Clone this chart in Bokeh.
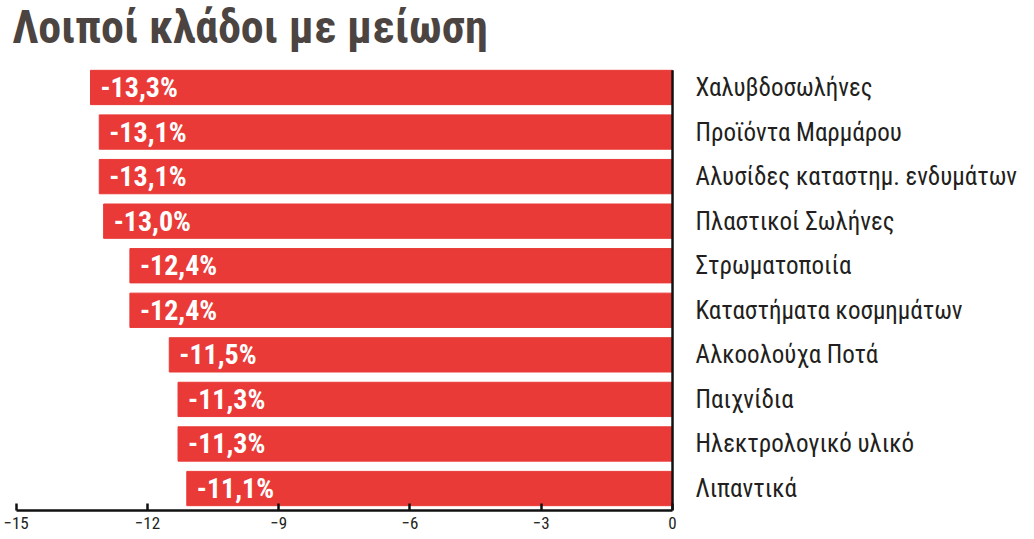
from bokeh.plotting import figure
from bokeh.models import Range1d, FixedTicker, Label, ColumnDataSource
from bokeh.embed import file_html
from bokeh.resources import INLINE
from bokeh.core.properties import value

title = "Λοιποί κλάδοι με μείωση"
categories = ["Χαλυβδοσωλήνες", "Προϊόντα Μαρμάρου", "Αλυσίδες καταστημ. ενδυμάτων",
              "Πλαστικοί Σωλήνες", "Στρωματοποιία", "Καταστήματα κοσμημάτων",
              "Αλκοολούχα Ποτά", "Παιχνίδια", "Ηλεκτρολογικό υλικό", "Λιπαντικά"]
values = [-13.3, -13.1, -13.1, -13.0, -12.4, -12.4, -11.5, -11.3, -11.3, -11.1]
value_labels = ["-13,3%", "-13,1%", "-13,1%", "-13,0%", "-12,4%", "-12,4%",
                "-11,5%", "-11,3%", "-11,3%", "-11,1%"]
ticks = [-15, -12, -9, -6, -3, 0]

NARROW = "'Liberation Sans Narrow', 'Arial Narrow', 'Roboto Condensed', Roboto, sans-serif"
RED = "#e93a37"

idx = list(range(len(categories)))
src = ColumnDataSource(dict(y=idx, v=values, zero=[0] * len(values),
                            lab=value_labels, cat=categories))

W, H = 1026, 538
y_bottom = 9.493
y_top = -1.952
p = figure(width=W, height=H, output_backend="svg", toolbar_location=None,
           x_range=Range1d(-15.174, 8.089), y_range=Range1d(y_bottom, y_top),
           x_axis_location="below", y_axis_location=None,
           min_border_left=8, min_border_right=0, min_border_top=0, min_border_bottom=28)
p.outline_line_color = None
p.xgrid.visible = False
p.ygrid.visible = False
p.background_fill_color = "white"
p.border_fill_color = "white"

p.hbar(y="y", left="v", right="zero", height=0.77, color=RED, source=src)
p.segment(x0=[0], y0=[-0.385], x1=[0], y1=[y_bottom], line_color="#111111", line_width=2.5)

p.text(x="v", y="y", text="lab", source=src, x_offset=10, text_baseline="middle",
       text_color="white", text_font=value(NARROW), text_font_style="bold",
       text_font_size="28px")
p.text(x="zero", y="y", text="cat", source=src, x_offset=23, text_baseline="middle",
       text_color="#231f20", text_font=value(NARROW), text_font_size="25px")

ax = p.xaxis[0]
ax.ticker = FixedTicker(ticks=ticks)
ax.bounds = (-15, 0)
ax.axis_line_width = 2.5
ax.axis_line_color = "#111111"
ax.major_tick_line_width = 2.5
ax.major_tick_line_color = "#111111"
ax.major_tick_in = 7
ax.major_tick_out = 0
ax.minor_tick_line_color = None
ax.major_label_standoff = 6
ax.major_label_text_font = NARROW
ax.major_label_text_font_size = "17px"
ax.major_label_text_color = "#231f20"

p.add_layout(Label(x=4, y=H - 54, x_units="screen", y_units="screen", text=title,
                   text_font=NARROW, text_font_style="bold", text_font_size="46px",
                   text_color="#4b4441", text_baseline="alphabetic"))

open("out.html", "w").write(file_html(p, INLINE))
